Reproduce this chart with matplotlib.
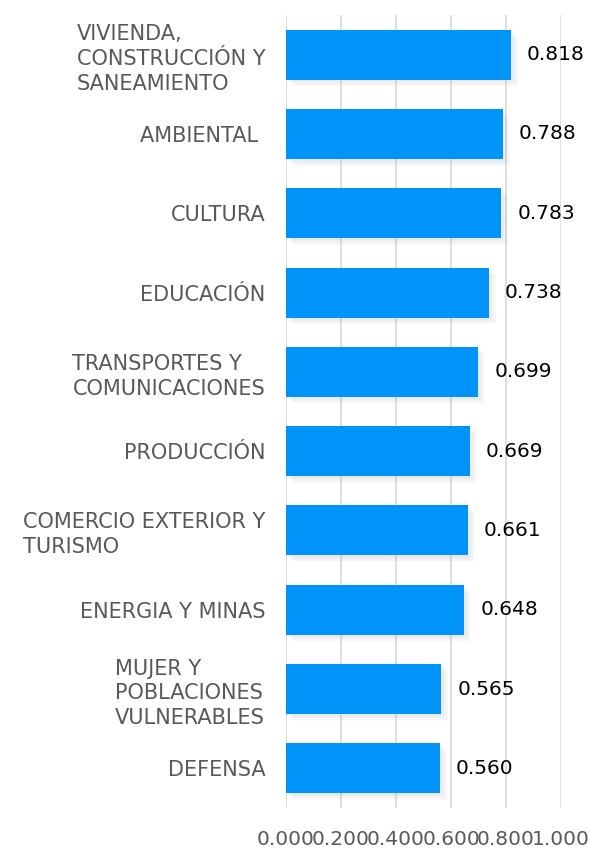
import matplotlib.pyplot as plt
import matplotlib.patheffects as pe
import numpy as np

# sectores, de arriba hacia abajo
sectores = ['VIVIENDA,\nCONSTRUCCIÓN Y\nSANEAMIENTO',
            'AMBIENTAL ',
            'CULTURA',
            'EDUCACIÓN',
            'TRANSPORTES Y\nCOMUNICACIONES',
            'PRODUCCIÓN',
            'COMERCIO EXTERIOR Y\nTURISMO',
            'ENERGIA Y MINAS',
            'MUJER Y\nPOBLACIONES\nVULNERABLES',
            'DEFENSA']
indice = [0.818, 0.788, 0.783, 0.738, 0.699, 0.669, 0.661, 0.648, 0.565, 0.560]
ticks_x = [0.0, 0.2, 0.4, 0.6, 0.8, 1.0]

plt.rcParams['font.family'] = ['DejaVu Sans']

fig = plt.figure(figsize=(5.89, 8.49), dpi=100)
ax = fig.add_axes([0.4856, 0.0483, 0.4669, 0.934])

y = np.arange(len(sectores))
bars = ax.barh(y, indice, height=0.63, color='#0194F8', zorder=3)

# sombra difusa a la derecha/abajo de cada barra
sombra = [pe.SimplePatchShadow(offset=(i, -i), shadow_rgbFace='#8f8f8f', alpha=0.04)
          for i in range(1, 6)]
for b in bars:
    b.set_path_effects(sombra + [pe.Normal()])

for yi, v in zip(y, indice):
    ax.annotate('%.3f' % v, (v, yi), xytext=(11.5, 0), textcoords='offset points',
                va='center', ha='left', fontsize=14.5, color='black', zorder=4)

ax.set_ylim(len(sectores) - 0.5, -0.5)
ax.set_xlim(0, 1.0)
ax.set_xticks(ticks_x)
ax.set_xticklabels(['%.3f' % t for t in ticks_x])
ax.set_yticks(y)
ax.set_yticklabels(sectores, multialignment='left', linespacing=1.3)

ax.grid(axis='x', color='#d9d9d9', linewidth=1.2, zorder=0)
for s in ax.spines.values():
    s.set_visible(False)
ax.tick_params(axis='y', length=0, pad=15, labelsize=15, labelcolor='#595959')
ax.tick_params(axis='x', length=0, pad=16, labelsize=14.5, labelcolor='#595959')

plt.savefig('out.png', dpi=100)
